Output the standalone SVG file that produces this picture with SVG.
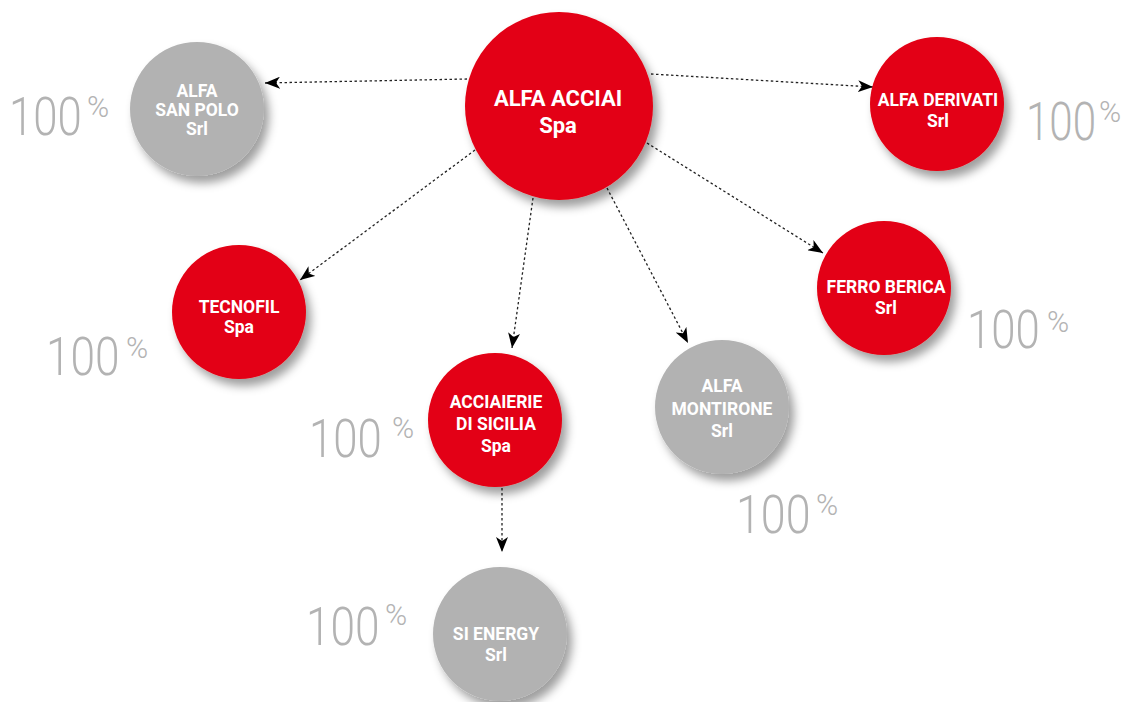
<svg xmlns="http://www.w3.org/2000/svg" width="1132" height="702" viewBox="0 0 1132 702">
<defs>
<filter id="sh" x="-30%" y="-30%" width="170%" height="170%">
<feDropShadow dx="5" dy="7" stdDeviation="5" flood-color="#000" flood-opacity="0.38"/>
</filter>
<marker id="ah" markerWidth="16" markerHeight="12" refX="15" refY="6" orient="auto" markerUnits="userSpaceOnUse">
<path d="M0,0 L15,6 L0,12 L4,6 Z" fill="#000"/>
</marker>
<style>
.red{fill:#e30613;filter:url(#sh)}
.gray{fill:#b2b2b2;filter:url(#sh)}
.lbl{font-family:Roboto,"Liberation Sans",sans-serif;font-weight:700;fill:#fff;text-anchor:middle;font-size:17.5px}
.big{font-size:22px}
.pct{font-family:Roboto,"Liberation Sans",sans-serif;font-weight:300;fill:#b3b3b3;font-size:54px}
.sup{font-family:Roboto,"Liberation Sans",sans-serif;font-weight:300;fill:#b3b3b3;font-size:30px}
.con{fill:none;stroke:#222;stroke-width:1.3;stroke-dasharray:2.5 2.5;marker-end:url(#ah)}
</style>
</defs>
<rect width="1132" height="702" fill="#fff"/>
<g id="connectors">
<line class="con" x1="467" y1="79" x2="265" y2="83"/>
<line class="con" x1="651" y1="74" x2="873" y2="87"/>
<line class="con" x1="475" y1="150" x2="300" y2="280"/>
<line class="con" x1="533" y1="198" x2="512" y2="348"/>
<line class="con" x1="607" y1="188" x2="688" y2="343"/>
<line class="con" x1="647" y1="143" x2="823" y2="253"/>
<line class="con" x1="502" y1="488" x2="502" y2="552"/>
</g>
<g id="alfa-acciai">
<circle class="red" cx="559" cy="106" r="94"/>
<text class="lbl big" x="558" y="106">ALFA ACCIAI</text>
<text class="lbl big" x="558" y="133">Spa</text>
</g>
<g id="alfa-san-polo">
<circle class="gray" cx="197" cy="109" r="67"/>
<text class="lbl" x="197" y="97">ALFA</text>
<text class="lbl" x="197" y="116">SAN POLO</text>
<text class="lbl" x="197" y="135">Srl</text>
<text class="pct" transform="translate(9,135) scale(0.81,1)">100</text>
<text class="sup" x="87" y="117">%</text>
</g>
<g id="alfa-derivati">
<circle class="red" cx="937" cy="104" r="67"/>
<text class="lbl" x="938" y="106">ALFA DERIVATI</text>
<text class="lbl" x="938" y="127">Srl</text>
<text class="pct" transform="translate(1026,140) scale(0.78,1)">100</text>
<text class="sup" x="1099" y="122">%</text>
</g>
<g id="tecnofil">
<circle class="red" cx="239" cy="312" r="67"/>
<text class="lbl" x="239" y="313">TECNOFIL</text>
<text class="lbl" x="239" y="333">Spa</text>
<text class="pct" transform="translate(46,375) scale(0.82,1)">100</text>
<text class="sup" x="126" y="358">%</text>
</g>
<g id="acciaierie-di-sicilia">
<circle class="red" cx="495" cy="420" r="67"/>
<text class="lbl" x="496" y="408">ACCIAIERIE</text>
<text class="lbl" x="496" y="430">DI SICILIA</text>
<text class="lbl" x="496" y="452">Spa</text>
<text class="pct" transform="translate(309,457) scale(0.81,1)">100</text>
<text class="sup" x="392" y="438">%</text>
</g>
<g id="alfa-montirone">
<circle class="gray" cx="722" cy="407" r="67"/>
<text class="lbl" x="722" y="392">ALFA</text>
<text class="lbl" x="722" y="415">MONTIRONE</text>
<text class="lbl" x="722" y="437">Srl</text>
<text class="pct" transform="translate(736,533) scale(0.83,1)">100</text>
<text class="sup" x="816" y="515">%</text>
</g>
<g id="ferro-berica">
<circle class="red" cx="884" cy="288" r="67"/>
<text class="lbl" x="886" y="293">FERRO BERICA</text>
<text class="lbl" x="886" y="314">Srl</text>
<text class="pct" transform="translate(967,348) scale(0.81,1)">100</text>
<text class="sup" x="1047" y="332">%</text>
</g>
<g id="si-energy">
<circle class="gray" cx="500" cy="634" r="67"/>
<text class="lbl" x="496" y="640">SI ENERGY</text>
<text class="lbl" x="496" y="661">Srl</text>
<text class="pct" transform="translate(306,645) scale(0.82,1)">100</text>
<text class="sup" x="385" y="625">%</text>
</g>
</svg>
